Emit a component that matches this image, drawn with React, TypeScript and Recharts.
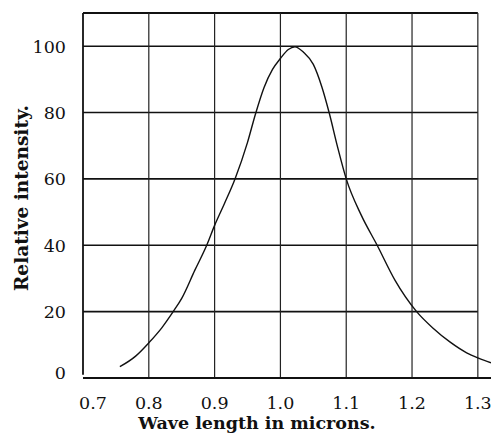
import React from 'react';
import { LineChart, Line, XAxis, YAxis, ReferenceLine } from 'recharts';

const wavelength = [0.756, 0.78, 0.8, 0.82, 0.837, 0.85, 0.87, 0.888, 0.9, 0.915, 0.931, 0.95, 0.962, 0.975, 0.988, 1.0, 1.012, 1.022, 1.035, 1.05, 1.063, 1.074, 1.087, 1.1, 1.123, 1.147, 1.174, 1.207, 1.232, 1.258, 1.283, 1.301, 1.32];
const intensity = [3.4, 6.6, 10.6, 15.2, 20.0, 24.0, 32.5, 40.0, 46.0, 52.6, 60.0, 71.0, 79.5, 87.5, 93.0, 96.3, 99.0, 99.8, 98.2, 94.5, 87.7, 80.0, 69.5, 60.0, 49.0, 40.0, 29.5, 20.0, 15.0, 10.8, 7.6, 6.0, 4.6];
const xTicks = [0.7, 0.8, 0.9, 1.0, 1.1, 1.2, 1.3];
const yTicks = [0, 20, 40, 60, 80, 100];
const hGrid = [20, 40, 60, 80, 100, 110];
const vGrid = [0.8, 0.9, 1.0, 1.1, 1.2, 1.3];

const data = wavelength.map((w, i) => ({ w, v: intensity[i] }));
const FONT = '"DejaVu Serif", "Liberation Serif", serif';

const XTick = (props: any) => {
  const { x, y, payload } = props;
  const dx = payload.value === 0.7 ? 10 : 0;
  return (
    <text x={x + dx} y={y + 23} textAnchor="middle" fontFamily={FONT} fontSize={17.5} fill="#111">
      {payload.value.toFixed(1)}
    </text>
  );
};

const YTick = (props: any) => {
  const { x, y, payload } = props;
  const dy = payload.value === 0 ? -6 : 0;
  return (
    <text x={x - 9} y={y + dy} dy={6.5} textAnchor="end" fontFamily={FONT} fontSize={17.5} fill="#111">
      {payload.value}
    </text>
  );
};

export default function App() {
  return (
    <div style={{ position: 'absolute', left: 0, top: 0, background: '#fff' }}>
      <LineChart width={491} height={440} data={data} margin={{ top: 13, right: 0, bottom: 0, left: 0 }}>
        <XAxis
          dataKey="w"
          type="number"
          domain={[0.7, 1.32]}
          ticks={xTicks}
          tick={<XTick />}
          tickLine={false}
          axisLine={{ stroke: '#111', strokeWidth: 2 }}
          height={62}
          allowDataOverflow
          label={() => (
            <text x={257} y={429} textAnchor="middle" fontFamily={FONT} fontWeight="bold" fontSize={17.5} fill="#111">
              Wave length in microns.
            </text>
          )}
        />
        <YAxis
          type="number"
          domain={[0, 110]}
          ticks={yTicks}
          tick={<YTick />}
          tickLine={false}
          axisLine={false}
          width={83}
          allowDataOverflow
          label={() => (
            <text x={28} y={198} transform="rotate(-90, 28, 198)" textAnchor="middle" fontFamily={FONT} fontWeight="bold" fontSize={18.5} fill="#111">
              Relative intensity.
            </text>
          )}
        />
        {hGrid.map((h) => (
          <ReferenceLine
            key={'h' + h}
            segment={[{ x: 0.7, y: h }, { x: 1.3, y: h }]}
            stroke="#111"
            strokeWidth={h === 110 ? 2 : 1.6}
            ifOverflow="visible"
          />
        ))}
        {vGrid.map((v) => (
          <ReferenceLine
            key={'v' + v}
            segment={[{ x: v, y: 0 }, { x: v, y: 110 }]}
            stroke="#222"
            strokeWidth={1.2}
            ifOverflow="visible"
          />
        ))}
        <ReferenceLine
          segment={[{ x: 0.7, y: 1 }, { x: 0.7, y: 110 }]}
          stroke="#111"
          strokeWidth={1.8}
          ifOverflow="visible"
        />
        <Line
          type="monotone"
          dataKey="v"
          stroke="#111"
          strokeWidth={1.4}
          dot={false}
          isAnimationActive={false}
        />
      </LineChart>
    </div>
  );
}
